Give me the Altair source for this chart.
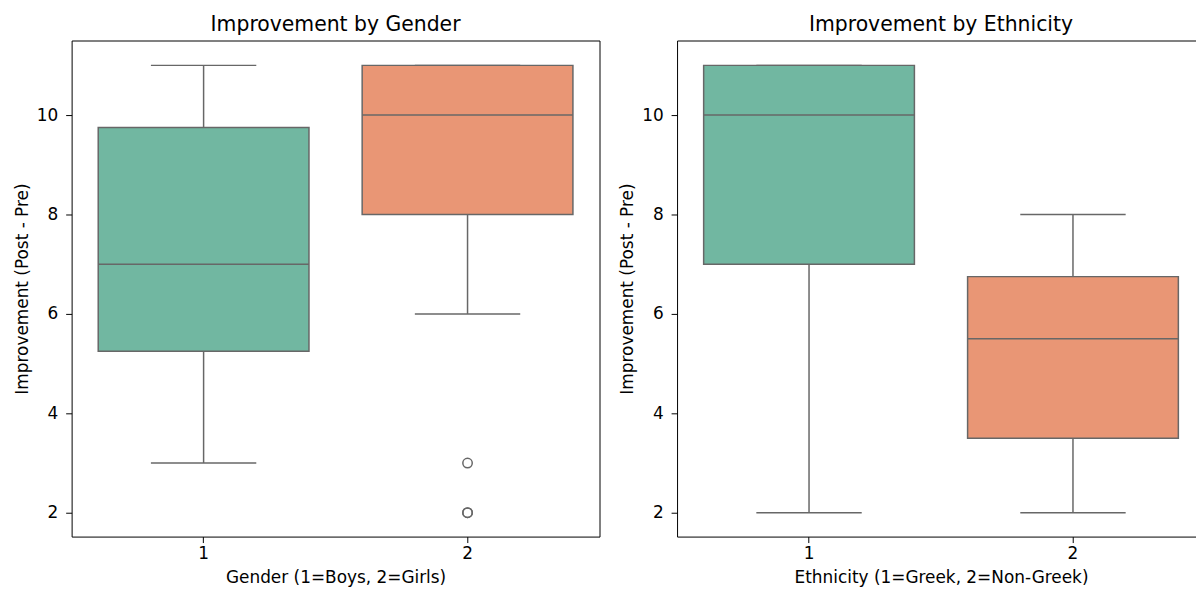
import altair as alt
import pandas as pd

# ---- data ----
groups = ["1", "2"]

gender_low = [3, 6]
gender_q1 = [5.25, 8]
gender_median = [7, 10]
gender_q3 = [9.75, 11]
gender_high = [11, 11]
gender_outlier_group = ["2", "2", "2"]
gender_outlier_value = [3, 2, 2]

eth_low = [2, 2]
eth_q1 = [7, 3.5]
eth_median = [10, 5.5]
eth_q3 = [11, 6.75]
eth_high = [11, 8]

y_ticks = [2, 4, 6, 8, 10]

FILL = ["#71b7a1", "#e99675"]
LINE = "#676767"
FONT = "DejaVu Sans"
W, H = 531, 499
BOX_W = 212
CAP_W = 106


def panel(title, xtitle, low, q1, med, q3, high, og=None, ov=None):
    df = pd.DataFrame({"grp": groups, "low": low, "q1": q1, "med": med,
                       "q3": q3, "high": high})
    x = alt.X("grp:N", scale=alt.Scale(paddingInner=0, paddingOuter=0),
              axis=alt.Axis(title=xtitle, labelAngle=0))
    yscale = alt.Scale(domain=[1.52, 11.5], nice=False, zero=False)
    yaxis = alt.Axis(title="Improvement (Post - Pre)", values=y_ticks)
    base = alt.Chart(df)
    w1 = base.mark_rule(color=LINE, strokeWidth=1.5).encode(
        x=x, y=alt.Y("low:Q", scale=yscale, axis=yaxis), y2="q1:Q")
    w2 = base.mark_rule(color=LINE, strokeWidth=1.5).encode(
        x=x, y=alt.Y("q3:Q", scale=yscale), y2="high:Q")
    box = base.mark_bar(size=BOX_W, stroke=LINE, strokeWidth=1.5).encode(
        x=x, y=alt.Y("q1:Q", scale=yscale), y2="q3:Q",
        fill=alt.Fill("grp:N", scale=alt.Scale(domain=groups, range=FILL),
                      legend=None))
    med_t = base.mark_tick(size=BOX_W, thickness=1.5, color=LINE, opacity=1).encode(
        x=x, y=alt.Y("med:Q", scale=yscale))
    cap_lo = base.mark_tick(size=CAP_W, thickness=1.5, color=LINE, opacity=1).encode(
        x=x, y=alt.Y("low:Q", scale=yscale))
    cap_hi = base.mark_tick(size=CAP_W, thickness=1.5, color=LINE, opacity=1).encode(
        x=x, y=alt.Y("high:Q", scale=yscale))
    layers = [w1, w2, box, med_t, cap_lo, cap_hi]
    if og is not None:
        odf = pd.DataFrame({"grp": og, "val": ov})
        pts = alt.Chart(odf).mark_point(shape="circle", filled=False, size=90,
                                        color=LINE, strokeWidth=1.5, opacity=1).encode(
            x=x, y=alt.Y("val:Q", scale=yscale))
        layers.append(pts)
    return alt.layer(*layers).properties(
        width=W, height=H,
        title=alt.TitleParams(title, fontSize=20.5, font=FONT, fontWeight="normal",
                              color="black", offset=5))


left = panel("Improvement by Gender", "Gender (1=Boys, 2=Girls)",
             gender_low, gender_q1, gender_median, gender_q3, gender_high,
             gender_outlier_group, gender_outlier_value)
right = panel("Improvement by Ethnicity", "Ethnicity (1=Greek, 2=Non-Greek)",
              eth_low, eth_q1, eth_median, eth_q3, eth_high)

chart = alt.hconcat(left, right, spacing=17).properties(
    padding={"left": 4, "top": 5, "right": -10, "bottom": 0}
).configure_view(
    stroke="black", strokeWidth=1
).configure_axis(
    domain=False, grid=False, tickColor="black", tickSize=6, tickWidth=1,
    labelColor="black", labelFont=FONT, labelFontSize=17,
    titleFont=FONT, titleFontSize=17, titleFontWeight="normal", titleColor="black"
).configure_axisY(
    labelPadding=8, titlePadding=5
).configure_axisX(
    labelPadding=3, titlePadding=8
)

chart.save("out.html", embed_options={"renderer": "svg", "actions": False})
